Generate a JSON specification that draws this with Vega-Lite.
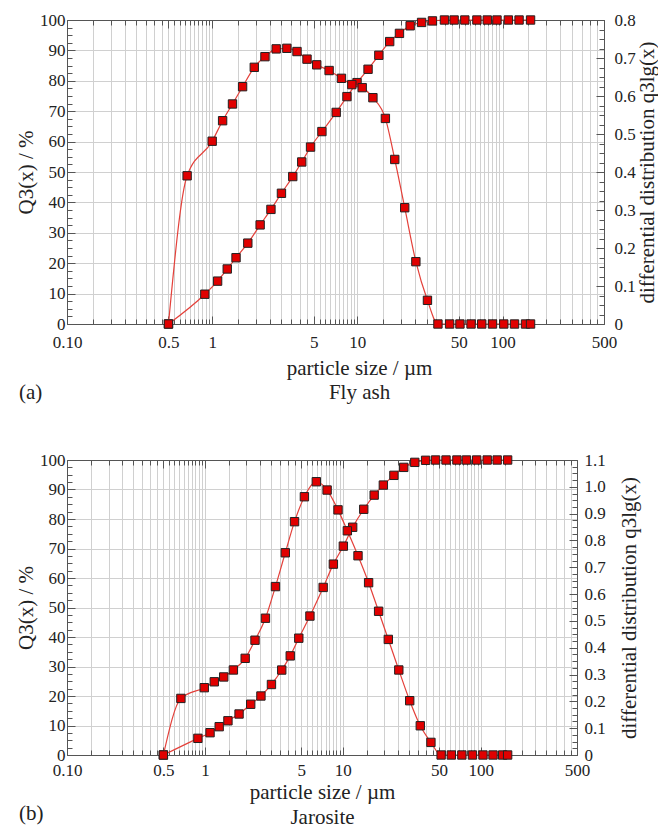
{
  "$schema": "https://vega.github.io/schema/vega-lite/v6.json",
  "padding": {"left": 15, "top": 10, "right": 0, "bottom": 0},
  "background": "white",
  "spacing": 46,
  "config": {
    "view": {"stroke": "#555"},
    "axis": {
      "labelFont": "Liberation Serif", "labelFontSize": 17, "labelColor": "#222",
      "titleFont": "Liberation Serif", "titleFontSize": 21, "titleFontWeight": "normal", "titleColor": "#222",
      "domainColor": "#555", "tickColor": "#555", "gridColor": "#d0d0d0", "gridWidth": 1
    },
    "title": {"font": "Liberation Serif", "fontSize": 21, "fontWeight": "normal", "color": "#222"}
  },
  "datasets": {
    "fa_cum": [
      {"size": 0.5, "value": 0}, {"size": 0.89, "value": 9.8}, {"size": 1.09, "value": 14.1}, {"size": 1.27, "value": 18.1},
      {"size": 1.46, "value": 21.8}, {"size": 1.76, "value": 26.6}, {"size": 2.14, "value": 32.6}, {"size": 2.54, "value": 37.7},
      {"size": 3.0, "value": 43.0}, {"size": 3.59, "value": 48.5}, {"size": 4.14, "value": 53.3}, {"size": 4.76, "value": 58.2},
      {"size": 5.7, "value": 63.3}, {"size": 7.15, "value": 69.6}, {"size": 8.48, "value": 74.8}, {"size": 9.95, "value": 79.4},
      {"size": 11.85, "value": 83.8}, {"size": 14.06, "value": 88.4}, {"size": 16.7, "value": 92.9}, {"size": 19.5, "value": 95.6},
      {"size": 23.1, "value": 98.1}, {"size": 27.7, "value": 99.2}, {"size": 32.9, "value": 99.7}, {"size": 39.8, "value": 100},
      {"size": 46.4, "value": 100}, {"size": 55, "value": 100}, {"size": 66.6, "value": 100}, {"size": 78.5, "value": 100},
      {"size": 91.6, "value": 100}, {"size": 109.7, "value": 100}, {"size": 130, "value": 100}, {"size": 156, "value": 100}
    ],
    "fa_diff": [
      {"size": 0.5, "value": 0}, {"size": 0.672, "value": 0.39}, {"size": 1.0, "value": 0.481}, {"size": 1.18, "value": 0.535},
      {"size": 1.38, "value": 0.579}, {"size": 1.62, "value": 0.6245}, {"size": 1.95, "value": 0.6755}, {"size": 2.31, "value": 0.7035},
      {"size": 2.76, "value": 0.724}, {"size": 3.27, "value": 0.7255}, {"size": 3.84, "value": 0.717}, {"size": 4.5, "value": 0.697},
      {"size": 5.25, "value": 0.682}, {"size": 6.39, "value": 0.667}, {"size": 7.77, "value": 0.6465}, {"size": 9.16, "value": 0.63},
      {"size": 10.8, "value": 0.622}, {"size": 12.8, "value": 0.5955}, {"size": 15.6, "value": 0.541}, {"size": 18.1, "value": 0.433},
      {"size": 21.2, "value": 0.306}, {"size": 25.3, "value": 0.164}, {"size": 30.4, "value": 0.0623}, {"size": 35.9, "value": 0},
      {"size": 43.2, "value": 0}, {"size": 50.9, "value": 0}, {"size": 60.7, "value": 0}, {"size": 71.9, "value": 0},
      {"size": 85.3, "value": 0}, {"size": 102, "value": 0}, {"size": 121, "value": 0}, {"size": 144, "value": 0}, {"size": 156, "value": 0}
    ],
    "ja_cum": [
      {"size": 0.5, "value": 0}, {"size": 0.89, "value": 5.65}, {"size": 1.09, "value": 7.56}, {"size": 1.27, "value": 9.6},
      {"size": 1.47, "value": 11.6}, {"size": 1.77, "value": 13.9}, {"size": 2.15, "value": 17.2}, {"size": 2.55, "value": 20.0},
      {"size": 3.04, "value": 23.9}, {"size": 3.61, "value": 28.8}, {"size": 4.16, "value": 33.6}, {"size": 4.8, "value": 39.6},
      {"size": 5.78, "value": 47.1}, {"size": 7.21, "value": 56.8}, {"size": 8.55, "value": 64.7}, {"size": 10.1, "value": 70.8},
      {"size": 11.8, "value": 77.2}, {"size": 14.2, "value": 83.3}, {"size": 16.9, "value": 88.1}, {"size": 19.7, "value": 91.5},
      {"size": 23.5, "value": 94.8}, {"size": 27.7, "value": 97.5}, {"size": 33.3, "value": 99.2}, {"size": 39.9, "value": 99.9},
      {"size": 47.1, "value": 100}, {"size": 56.1, "value": 100}, {"size": 67.3, "value": 100}, {"size": 78.9, "value": 100},
      {"size": 93.6, "value": 100}, {"size": 111.6, "value": 100}, {"size": 131.8, "value": 100}, {"size": 157, "value": 100}
    ],
    "ja_diff": [
      {"size": 0.5, "value": 0}, {"size": 0.67, "value": 0.211}, {"size": 0.99, "value": 0.251}, {"size": 1.17, "value": 0.273},
      {"size": 1.37, "value": 0.291}, {"size": 1.61, "value": 0.317}, {"size": 1.96, "value": 0.3605}, {"size": 2.31, "value": 0.428},
      {"size": 2.75, "value": 0.51}, {"size": 3.25, "value": 0.628}, {"size": 3.83, "value": 0.754}, {"size": 4.47, "value": 0.87},
      {"size": 5.27, "value": 0.963}, {"size": 6.43, "value": 1.019}, {"size": 7.7, "value": 0.988}, {"size": 9.24, "value": 0.914},
      {"size": 10.8, "value": 0.836}, {"size": 12.9, "value": 0.743}, {"size": 15.4, "value": 0.6425}, {"size": 18.2, "value": 0.536},
      {"size": 21.4, "value": 0.431}, {"size": 25.5, "value": 0.317}, {"size": 30.6, "value": 0.2025}, {"size": 36.5, "value": 0.109},
      {"size": 43.6, "value": 0.047}, {"size": 51.7, "value": 0}, {"size": 61.3, "value": 0}, {"size": 73.1, "value": 0},
      {"size": 87.2, "value": 0}, {"size": 104, "value": 0}, {"size": 123, "value": 0}, {"size": 144.5, "value": 0}, {"size": 157, "value": 0}
    ]
  },
  "vconcat": [
    {
      "width": 537, "height": 304,
      "title": {"text": "(a)", "orient": "bottom", "anchor": "start", "frame": "group", "dx": -48, "dy": -24},
      "layer": [
        {
          "data": {"name": "fa_cum"},
          "encoding": {
            "x": {"field": "size", "type": "quantitative", "scale": {"type": "log", "domain": [0.1, 500]},
              "axis": {"orient": "bottom", "grid": true, "labelOverlap": false, "labelFlush": false, "labelPadding": 18,
                "values": [0.1,0.15,0.2,0.25,0.3,0.35,0.4,0.45,0.5,0.55,0.6,0.65,0.7,0.75,0.8,0.85,0.9,0.95,1,1.5,2,2.5,3,3.5,4,4.5,5,5.5,6,6.5,7,7.5,8,8.5,9,9.5,10,15,20,25,30,35,40,45,50,55,60,65,70,75,80,85,90,95,100,150,200,250,300,350,400,450,500],
                "tickSize": {"condition": {"test": "indexof([0.1,0.5,1,5,10,50,100,500], datum.value) >= 0", "value": -8}, "value": -5},
                "labelExpr": "datum.value == 0.1 ? '0.10' : (indexof([0.5,1,5,10,50,100,500], datum.value) >= 0 ? '' + datum.value : '')",
                "title": ["particle size / µm", "Fly ash"], "titleLineHeight": 24, "titleX": 292, "titlePadding": 4}},
            "y": {"field": "value", "type": "quantitative", "scale": {"domain": [0, 100]},
              "axis": {"orient": "left", "grid": true, "labelOverlap": false, "labelPadding": 10,
                "values": [0,2.5,5,7.5,10,12.5,15,17.5,20,22.5,25,27.5,30,32.5,35,37.5,40,42.5,45,47.5,50,52.5,55,57.5,60,62.5,65,67.5,70,72.5,75,77.5,80,82.5,85,87.5,90,92.5,95,97.5,100],
                "tickSize": {"condition": {"test": "datum.value % 10 == 0", "value": -8}, "value": -5},
                "gridOpacity": {"condition": {"test": "datum.value % 10 == 0", "value": 1}, "value": 0},
                "labelExpr": "datum.value % 10 == 0 ? '' + datum.value : ''",
                "title": "Q3(x) / %", "titlePadding": 3}}
          },
          "layer": [
            {"mark": {"type": "line", "color": "#e4403a", "strokeWidth": 1.2, "interpolate": "monotone"}},
            {"mark": {"type": "point", "shape": "square", "filled": true, "fill": "#e00000", "stroke": "#222", "strokeWidth": 1, "size": 70, "opacity": 1}}
          ]
        },
        {
          "data": {"name": "fa_diff"},
          "encoding": {
            "x": {"field": "size", "type": "quantitative", "scale": {"type": "log", "domain": [0.1, 500]},
              "axis": {"orient": "top", "grid": false, "labels": false, "title": null,
                "values": [0.1,0.15,0.2,0.25,0.3,0.35,0.4,0.45,0.5,0.55,0.6,0.65,0.7,0.75,0.8,0.85,0.9,0.95,1,1.5,2,2.5,3,3.5,4,4.5,5,5.5,6,6.5,7,7.5,8,8.5,9,9.5,10,15,20,25,30,35,40,45,50,55,60,65,70,75,80,85,90,95,100,150,200,250,300,350,400,450,500],
                "tickSize": {"condition": {"test": "indexof([0.1,0.5,1,5,10,50,100,500], datum.value) >= 0", "value": -8}, "value": -5}}},
            "y": {"field": "value", "type": "quantitative", "scale": {"domain": [0, 0.8]},
              "axis": {"orient": "right", "grid": false, "labelOverlap": false, "labelPadding": 18,
                "values": [0,0.025,0.05,0.075,0.1,0.125,0.15,0.175,0.2,0.225,0.25,0.275,0.3,0.325,0.35,0.375,0.4,0.425,0.45,0.475,0.5,0.525,0.55,0.575,0.6,0.625,0.65,0.675,0.7,0.725,0.75,0.775,0.8],
                "tickSize": {"condition": {"test": "abs(datum.value*10 - round(datum.value*10)) < 0.001", "value": -8}, "value": -5},
                "labelExpr": "abs(datum.value*10 - round(datum.value*10)) < 0.001 ? (datum.value == 0 ? '0' : format(datum.value, '.1f')) : ''",
                "title": "differential distribution  q3lg(x)", "titleAngle": -90, "titlePadding": 22}}
          },
          "layer": [
            {"mark": {"type": "line", "color": "#e4403a", "strokeWidth": 1.2, "interpolate": "monotone"}},
            {"mark": {"type": "point", "shape": "square", "filled": true, "fill": "#e00000", "stroke": "#222", "strokeWidth": 1, "size": 70, "opacity": 1}}
          ]
        }
      ],
      "resolve": {"scale": {"y": "independent"}, "axis": {"x": "independent"}}
    },
    {
      "width": 510, "height": 295,
      "title": {"text": "(b)", "orient": "bottom", "anchor": "start", "frame": "group", "dx": -48, "dy": -28},
      "layer": [
        {
          "data": {"name": "ja_cum"},
          "encoding": {
            "x": {"field": "size", "type": "quantitative", "scale": {"type": "log", "domain": [0.1, 500]},
              "axis": {"orient": "bottom", "grid": true, "labelOverlap": false, "labelFlush": false, "labelPadding": 15,
                "values": [0.1,0.15,0.2,0.25,0.3,0.35,0.4,0.45,0.5,0.55,0.6,0.65,0.7,0.75,0.8,0.85,0.9,0.95,1,1.5,2,2.5,3,3.5,4,4.5,5,5.5,6,6.5,7,7.5,8,8.5,9,9.5,10,15,20,25,30,35,40,45,50,55,60,65,70,75,80,85,90,95,100,150,200,250,300,350,400,450,500],
                "tickSize": {"condition": {"test": "indexof([0.1,0.5,1,5,10,50,100,500], datum.value) >= 0", "value": -8}, "value": -5},
                "labelExpr": "datum.value == 0.1 ? '0.10' : (indexof([0.5,1,5,10,50,100,500], datum.value) >= 0 ? '' + datum.value : '')",
                "title": ["particle size / µm", "Jarosite"], "titleLineHeight": 25, "titlePadding": 0}},
            "y": {"field": "value", "type": "quantitative", "scale": {"domain": [0, 100]},
              "axis": {"orient": "left", "grid": true, "labelOverlap": false, "labelPadding": 10,
                "values": [0,2.5,5,7.5,10,12.5,15,17.5,20,22.5,25,27.5,30,32.5,35,37.5,40,42.5,45,47.5,50,52.5,55,57.5,60,62.5,65,67.5,70,72.5,75,77.5,80,82.5,85,87.5,90,92.5,95,97.5,100],
                "tickSize": {"condition": {"test": "datum.value % 10 == 0", "value": -8}, "value": -5},
                "gridOpacity": {"condition": {"test": "datum.value % 10 == 0", "value": 1}, "value": 0},
                "labelExpr": "datum.value % 10 == 0 ? '' + datum.value : ''",
                "title": "Q3(x) / %", "titlePadding": 3}}
          },
          "layer": [
            {"mark": {"type": "line", "color": "#e4403a", "strokeWidth": 1.2, "interpolate": "monotone"}},
            {"mark": {"type": "point", "shape": "square", "filled": true, "fill": "#e00000", "stroke": "#222", "strokeWidth": 1, "size": 70, "opacity": 1}}
          ]
        },
        {
          "data": {"name": "ja_diff"},
          "encoding": {
            "x": {"field": "size", "type": "quantitative", "scale": {"type": "log", "domain": [0.1, 500]},
              "axis": {"orient": "top", "grid": false, "labels": false, "title": null,
                "values": [0.1,0.15,0.2,0.25,0.3,0.35,0.4,0.45,0.5,0.55,0.6,0.65,0.7,0.75,0.8,0.85,0.9,0.95,1,1.5,2,2.5,3,3.5,4,4.5,5,5.5,6,6.5,7,7.5,8,8.5,9,9.5,10,15,20,25,30,35,40,45,50,55,60,65,70,75,80,85,90,95,100,150,200,250,300,350,400,450,500],
                "tickSize": {"condition": {"test": "indexof([0.1,0.5,1,5,10,50,100,500], datum.value) >= 0", "value": -8}, "value": -5}}},
            "y": {"field": "value", "type": "quantitative", "scale": {"domain": [0, 1.1]},
              "axis": {"orient": "right", "grid": false, "labelOverlap": false, "labelPadding": 15,
                "values": [0,0.025,0.05,0.075,0.1,0.125,0.15,0.175,0.2,0.225,0.25,0.275,0.3,0.325,0.35,0.375,0.4,0.425,0.45,0.475,0.5,0.525,0.55,0.575,0.6,0.625,0.65,0.675,0.7,0.725,0.75,0.775,0.8,0.825,0.85,0.875,0.9,0.925,0.95,0.975,1,1.025,1.05,1.075,1.1],
                "tickSize": {"condition": {"test": "abs(datum.value*10 - round(datum.value*10)) < 0.001", "value": -8}, "value": -5},
                "labelExpr": "abs(datum.value*10 - round(datum.value*10)) < 0.001 ? (datum.value == 0 ? '0' : format(datum.value, '.1f')) : ''",
                "title": "differential distribution  q3lg(x)", "titleAngle": -90, "titlePadding": 34}}
          },
          "layer": [
            {"mark": {"type": "line", "color": "#e4403a", "strokeWidth": 1.2, "interpolate": "monotone"}},
            {"mark": {"type": "point", "shape": "square", "filled": true, "fill": "#e00000", "stroke": "#222", "strokeWidth": 1, "size": 70, "opacity": 1}}
          ]
        }
      ],
      "resolve": {"scale": {"y": "independent"}, "axis": {"x": "independent"}}
    }
  ]
}
